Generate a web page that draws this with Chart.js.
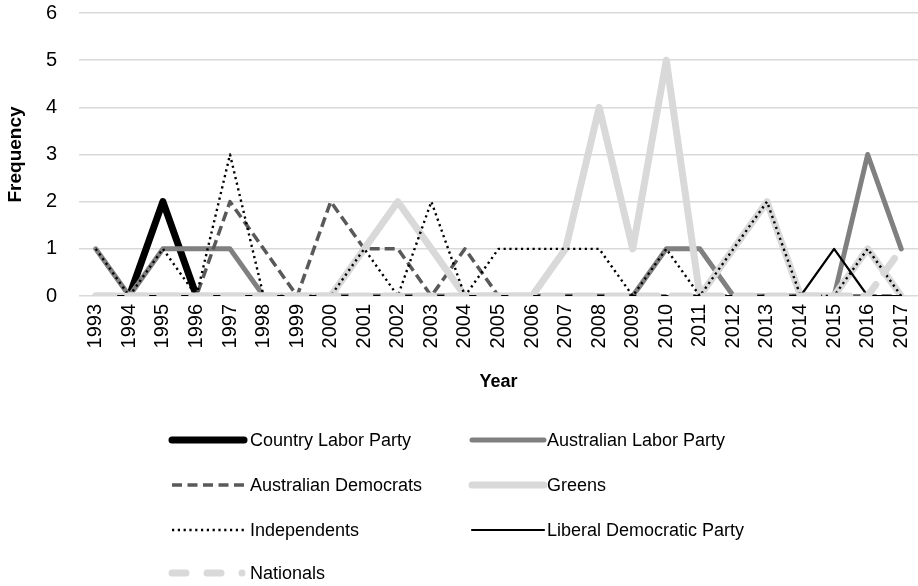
<!DOCTYPE html>
<html><head><meta charset="utf-8">
<script src="https://cdn.jsdelivr.net/npm/chart.js@4"></script>
<style>
html,body{margin:0;padding:0;background:#fff;}
#wrap{position:relative;width:918px;height:586px;overflow:hidden;}
#c{position:absolute;left:0;top:0;}
.sw{position:absolute;}
.lt{position:absolute;font-family:"Liberation Sans",Arial,sans-serif;font-size:18px;color:#000;white-space:nowrap;line-height:20px;}
</style></head><body>
<div id="wrap"><canvas id="c" width="918" height="586"></canvas><div id="legend"></div></div>
<script>
const years = ['1993','1994','1995','1996','1997','1998','1999','2000','2001','2002','2003','2004','2005','2006','2007','2008','2009','2010','2011','2012','2013','2014','2015','2016','2017'];
const yTicks = [0,1,2,3,4,5,6];
const countryLabor    = [null,0,2,0,null,null,null,null,null,null,null,null,null,null,null,null,null,null,null,null,null,null,null,null,null];
const australianLabor = [1,0,1,1,1,0,0,0,0,0,0,0,0,0,0,0,0,1,1,0,0,0,0,3,1];
const ausDemocrats    = [0,0,0,0,2,1,0,2,1,1,0,1,0,0,0,0,0,0,0,0,0,0,0,0,0];
const greens          = [0,0,0,0,0,0,0,0,1,2,1,0,0,0,1,4,1,5,0,1,2,0,0,1,0];
const independents    = [1,0,1,0,3,0,0,0,1,0,2,0,1,1,1,1,0,1,0,1,2,0,0,1,0];
const liberalDem      = [0,0,0,0,0,0,0,0,0,0,0,0,0,0,0,0,0,0,0,0,0,0,1,0,0];
const nationals       = [0,0,0,0,0,0,0,0,0,0,0,0,0,0,0,0,0,0,0,0,0,0,0,0,1];
const seriesNames = ['Country Labor Party','Australian Labor Party','Australian Democrats','Greens','Independents','Liberal Democratic Party','Nationals'];

const styles = [
  {color:'#000000', width:7,   dash:[],      cap:'round'},
  {color:'#808080', width:5,   dash:[],      cap:'round'},
  {color:'#595959', width:3.5, dash:[10,5],  cap:'butt'},
  {color:'#d9d9d9', width:7,   dash:[],      cap:'round'},
  {color:'#000000', width:2.4, dash:[2.2,3.6], cap:'butt'},
  {color:'#000000', width:2.2, dash:[],      cap:'round'},
  {color:'#d9d9d9', width:7,   dash:[18,14], cap:'round'}
];
const values = [countryLabor, australianLabor, ausDemocrats, greens, independents, liberalDem, nationals];

const datasets = values.map((v,i)=>({
  label: seriesNames[i],
  data: v,
  borderColor: styles[i].color,
  backgroundColor: styles[i].color,
  borderWidth: styles[i].width,
  borderDash: styles[i].dash,
  borderCapStyle: styles[i].cap,
  borderJoinStyle: 'round',
  pointRadius: 0,
  tension: 0,
  fill: false,
  spanGaps: false,
  order: values.length - 1 - i
}));

Chart.defaults.font.family = "'Liberation Sans', Arial, sans-serif";
Chart.defaults.color = '#000';

new Chart(document.getElementById('c').getContext('2d'), {
  type: 'line',
  data: {labels: years, datasets},
  options: {
    responsive: false,
    animation: false,
    layout: {padding: {left: 0, right: 0, top: 13, bottom: 193}},
    plugins: {legend: {display: false}, tooltip: {enabled: false}},
    scales: {
      x: {
        offset: true,
        grid: {display: false, drawTicks: false},
        border: {display: false},
        ticks: {autoSkip: false, minRotation: 90, maxRotation: 90, padding: 8, font: {size: 20}},
        title: {display: true, text: 'Year', font: {size: 18, weight: 'bold'}, padding: {top: 0, bottom: 0}},
        afterFit(s) { s.height = 97; s.paddingLeft = 0; s.paddingRight = 0; }
      },
      y: {
        min: 0, max: 6,
        afterBuildTicks(s) { s.ticks = yTicks.map(v => ({value: v})); },
        ticks: {padding: 22, font: {size: 20}},
        grid: {color: '#d9d9d9', lineWidth: 1.5, drawTicks: false},
        border: {display: false},
        title: {display: true, text: 'Frequency', font: {size: 19, weight: 'bold'}, padding: {top: 4, bottom: 0}},
        afterFit(s) { s.width = 79; s.paddingTop = 0; s.paddingBottom = 0; }
      }
    }
  }
});

// HTML legend (2 columns)
const legendEl = document.getElementById('legend');
const rowY = [440, 485, 530, 573];
const colLine = [172, 472];
const colText = [250, 547];
const lineLen = 72;
const legendDash = ['', '', '10 5.5', '', '2.2 3.6', '', '14 21 14 21 0 100'];
seriesNames.forEach((name, i) => {
  const r = Math.floor(i / 2), c = i % 2;
  const st = styles[i];
  const svgNS = 'http://www.w3.org/2000/svg';
  const svg = document.createElementNS(svgNS, 'svg');
  svg.setAttribute('width', String(lineLen + 10)); svg.setAttribute('height', '14');
  svg.setAttribute('class', 'sw');
  svg.style.left = (colLine[c] - 5) + 'px';
  svg.style.top = (rowY[r] - 7) + 'px';
  const ln = document.createElementNS(svgNS, 'line');
  ln.setAttribute('x1', '5'); ln.setAttribute('x2', String(5 + lineLen));
  ln.setAttribute('y1', '7'); ln.setAttribute('y2', '7');
  ln.setAttribute('stroke', st.color);
  ln.setAttribute('stroke-width', String(st.width));
  ln.setAttribute('stroke-linecap', st.cap === 'round' ? 'round' : 'butt');
  if (legendDash[i]) ln.setAttribute('stroke-dasharray', legendDash[i]);
  svg.appendChild(ln);
  legendEl.appendChild(svg);
  const t = document.createElement('div');
  t.className = 'lt';
  t.textContent = name;
  t.style.left = colText[c] + 'px';
  t.style.top = (rowY[r] - 10) + 'px';
  legendEl.appendChild(t);
});
</script>
</body></html>
